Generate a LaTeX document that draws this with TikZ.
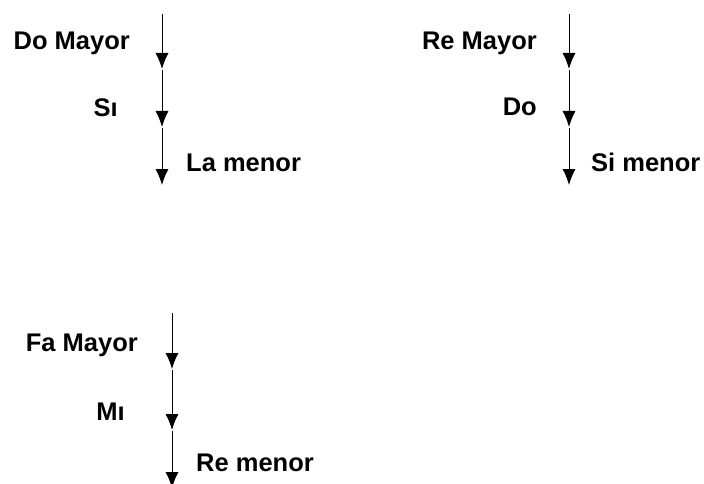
\documentclass[tikz,border=0pt]{standalone}
\usepackage{fontspec}
\setmainfont{Liberation Sans}
\usetikzlibrary{arrows.meta}
\tikzset{
	tono/.style={inner sep=0pt, font=\fontsize{25.5}{28}\selectfont\bfseries},
	paso/.style={->, line width=1pt, shorten <=1pt}
}
\begin{document}
\begin{tikzpicture}[x=1pt, y=-1pt, >={Latex[length=16pt,width=13pt]}, line join=round]
	\useasboundingbox (0,0) rectangle (704,484);
	% Do Mayor
	\coordinate (do0) at (162,13);  \coordinate (do1) at (162,69);
	\coordinate (do2) at (162,127); \coordinate (do3) at (162,185);
	\draw[paso] (do0)--(do1); \draw[paso] (do1)--(do2); \draw[paso] (do2)--(do3);
	\node[tono, anchor=east] (doM) at (130,43) {Do Mayor};
	\node[tono, anchor=east] (si) at (118,108) {S\i};
	\node[tono, anchor=west] (lam) at (186,163) {La menor};
	% Re Mayor
	\coordinate (re0) at (569,13);  \coordinate (re1) at (569,69);
	\coordinate (re2) at (569,127); \coordinate (re3) at (569,185);
	\draw[paso] (re0)--(re1); \draw[paso] (re1)--(re2); \draw[paso] (re2)--(re3);
	\node[tono, anchor=east] (reM) at (537,43) {Re Mayor};
	\node[tono, anchor=east] (do) at (537,107) {Do};
	\node[tono, anchor=west] (sim) at (591,162) {Si menor};
	% Fa Mayor
	\coordinate (fa0) at (172,312); \coordinate (fa1) at (172,369);
	\coordinate (fa2) at (172,430); \coordinate (fa3) at (172,488);
	\draw[paso] (fa0)--(fa1); \draw[paso] (fa1)--(fa2); \draw[paso] (fa2)--(fa3);
	\node[tono, anchor=east] (faM) at (138,345) {Fa Mayor};
	\node[tono, anchor=east] (mi) at (125,412) {M\i};
	\node[tono, anchor=west] (rem) at (196,463) {Re menor};
\end{tikzpicture}
\end{document}
